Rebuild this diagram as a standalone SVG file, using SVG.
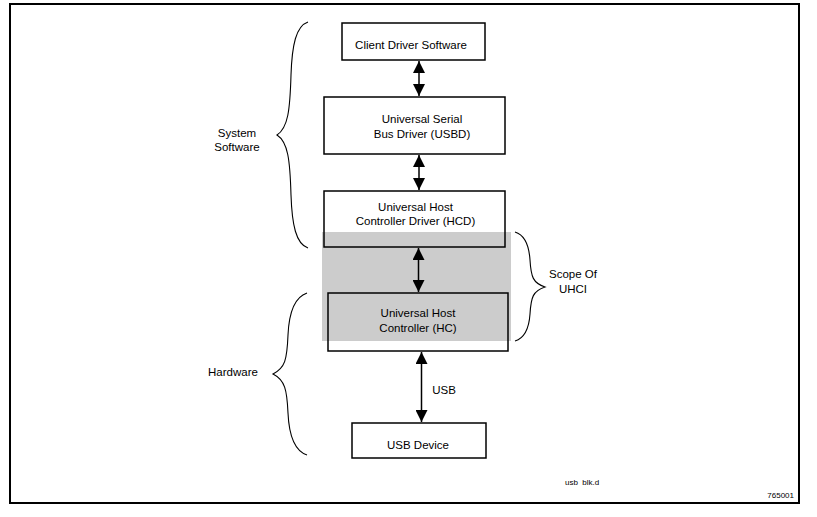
<svg xmlns="http://www.w3.org/2000/svg" width="817" height="517" viewBox="0 0 817 517">
<style>
  .box { fill: none; stroke: #000; stroke-width: 1.5; }
  .t { font-family: "Liberation Sans", Arial, sans-serif; font-size: 11.5px; fill: #000; text-anchor: middle; }
  .s { font-family: "Liberation Sans", Arial, sans-serif; font-size: 8px; fill: #000; white-space: pre; }
  .brace { fill: none; stroke: #000; stroke-width: 1.1; }
  .conn { stroke: #000; stroke-width: 1.5; fill: none; marker-start: url(#ah); marker-end: url(#ah); }
</style>
<defs>
  <marker id="ah" viewBox="0 0 12 12" refX="12" refY="6" markerWidth="12" markerHeight="12" markerUnits="userSpaceOnUse" orient="auto-start-reverse">
    <path d="M0,0 L12,6 L0,12 Z" fill="#000"/>
  </marker>
</defs>
<rect x="0" y="0" width="817" height="517" fill="#fff"/>
<rect x="10" y="4" width="789" height="499" fill="none" stroke="#000" stroke-width="2"/>
<rect id="uhci-scope" x="322" y="232" width="189" height="109" fill="#cccccc"/>

<g id="client">
  <rect class="box" x="342" y="23" width="143" height="37"/>
  <text class="t" x="411" y="49">Client Driver Software</text>
</g>
<g id="usbd">
  <rect class="box" x="324" y="97" width="181" height="57"/>
  <text class="t" x="422" y="122.5">Universal Serial</text>
  <text class="t" x="422" y="137.5">Bus Driver (USBD)</text>
</g>
<g id="hcd">
  <rect class="box" x="324" y="191" width="181" height="56"/>
  <text class="t" x="415.5" y="211">Universal Host</text>
  <text class="t" x="415.5" y="224.5">Controller Driver (HCD)</text>
</g>
<g id="hc">
  <rect class="box" x="328" y="293" width="180" height="58"/>
  <text class="t" x="418" y="317">Universal Host</text>
  <text class="t" x="418" y="331.5">Controller (HC)</text>
</g>
<g id="usbdevice">
  <rect class="box" x="352" y="423" width="134" height="35"/>
  <text class="t" x="418" y="449">USB Device</text>
</g>

<g id="connectors">
  <line class="conn" x1="419" y1="61" x2="419" y2="96"/>
  <line class="conn" x1="419" y1="155" x2="419" y2="190"/>
  <line class="conn" x1="418.5" y1="248" x2="418.5" y2="292"/>
  <line class="conn" x1="421.5" y1="352" x2="421.5" y2="422"/>
  <text class="t" x="444" y="394">USB</text>
</g>

<g id="system-software">
  <path class="brace" d="M308,22 C296,26 292,45 291,75 C290,110 288,128 277,135 C288,142 290,160 291,195 C292,225 296,244 308,248"/>
  <text class="t" x="237" y="137">System</text>
  <text class="t" x="237" y="151">Software</text>
</g>
<g id="hardware">
  <path class="brace" d="M307,293 C295,297 289,313 288,335 C287,360 285,368 273,374 C285,380 287,390 288,413 C289,435 295,451 307,455"/>
  <text class="t" x="233" y="376">Hardware</text>
</g>
<g id="scope">
  <path class="brace" d="M515,232 C525,235 529,245 530,260 C531,277 533,283 545,287 C533,291 531,297 530,314 C529,329 525,338 515,341"/>
  <text class="t" x="573" y="277.5">Scope Of</text>
  <text class="t" x="573" y="292.5">UHCI</text>
</g>

<text class="s" x="565" y="484.5" xml:space="preserve">usb  blk.d</text>
<text class="s" x="794" y="498" text-anchor="end">765001</text>
</svg>
